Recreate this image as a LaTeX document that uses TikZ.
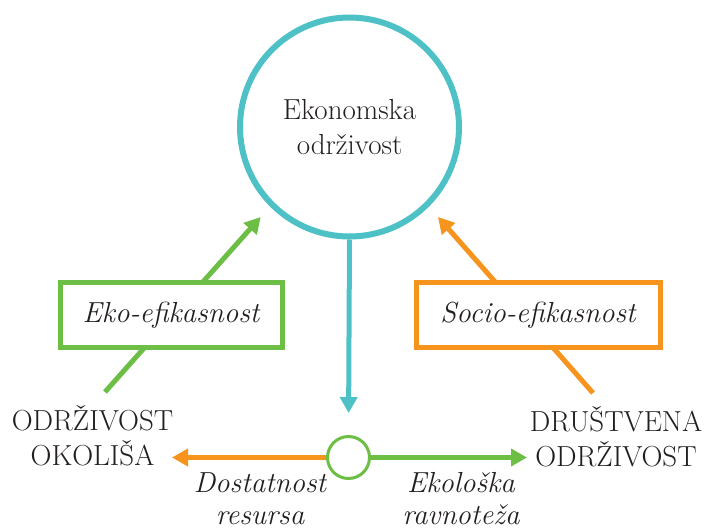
\documentclass[tikz,border=0pt]{standalone}
\usetikzlibrary{arrows.meta}
\definecolor{tealc}{RGB}{77,193,197}
\definecolor{greenc}{RGB}{108,190,69}
\definecolor{orangec}{RGB}{247,148,29}
\definecolor{textc}{RGB}{35,31,32}
\begin{document}
\begin{tikzpicture}[x=1pt,y=-1pt,
  every node/.style={text=textc,font=\rmfamily\fontsize{29}{35}\selectfont},
  bigcirc/.style={circle,draw=tealc,line width=6pt,minimum size=219pt,inner sep=0pt,align=center,fill=white},
  smallcirc/.style={circle,draw=greenc,line width=3pt,minimum size=42pt,inner sep=0pt,fill=white},
  effbox/.style={rectangle,line width=5pt,minimum width=222pt,minimum height=65pt,fill=white,inner sep=0pt,font=\rmfamily\fontsize{29}{35}\selectfont\itshape},
  pillar/.style={align=center,inner sep=0pt},
  flowlabel/.style={align=center,inner sep=0pt,font=\rmfamily\fontsize{29}{32}\selectfont\itshape},
  conn/.style={line width=5pt,-{Triangle[length=16pt,width=17pt]}}
]
\useasboundingbox (0,0) rectangle (707,529);

\coordinate (envtop) at (105,392);
\coordinate (soctop) at (593,393);
\coordinate (tipL) at (260.7,217);
\coordinate (tipR) at (438,217);
\coordinate (tipEnv) at (172,457.5);
\coordinate (tipSoc) at (527,457.5);

\draw[conn,draw=greenc,fill=greenc] (envtop) -- (tipL);
\draw[conn,draw=orangec,fill=orangec] (soctop) -- (tipR);

\node[bigcirc] (econ) at (349.5,127) {Ekonomska\\održivost};
\node[smallcirc] (eco) at (348.5,457.5) {};
\node[effbox,draw=greenc] (ekobox) at (171,315.5) {Eko-efikasnost};
\node[effbox,draw=orangec,minimum width=244pt] (sociobox) at (538,315.5) {Socio-efikasnost};

\node[pillar] (env) at (92.5,436) {ODRŽIVOST\\OKOLIŠA};
\node[pillar] (soc) at (616,436.5) {DRUŠTVENA\\ODRŽIVOST};

\node[flowlabel] (dost) at (260,499) {Dostatnost\\resursa};
\node[flowlabel] (ekol) at (461,499) {Ekološka\\ravnoteža};

\draw[conn,draw=tealc,fill=tealc,shorten >=22pt] (econ.south) -- (eco.north);
\draw[conn,draw=orangec,fill=orangec] (eco.west) -- (tipEnv);
\draw[conn,draw=greenc,fill=greenc] (eco.east) -- (tipSoc);
\end{tikzpicture}
\end{document}
